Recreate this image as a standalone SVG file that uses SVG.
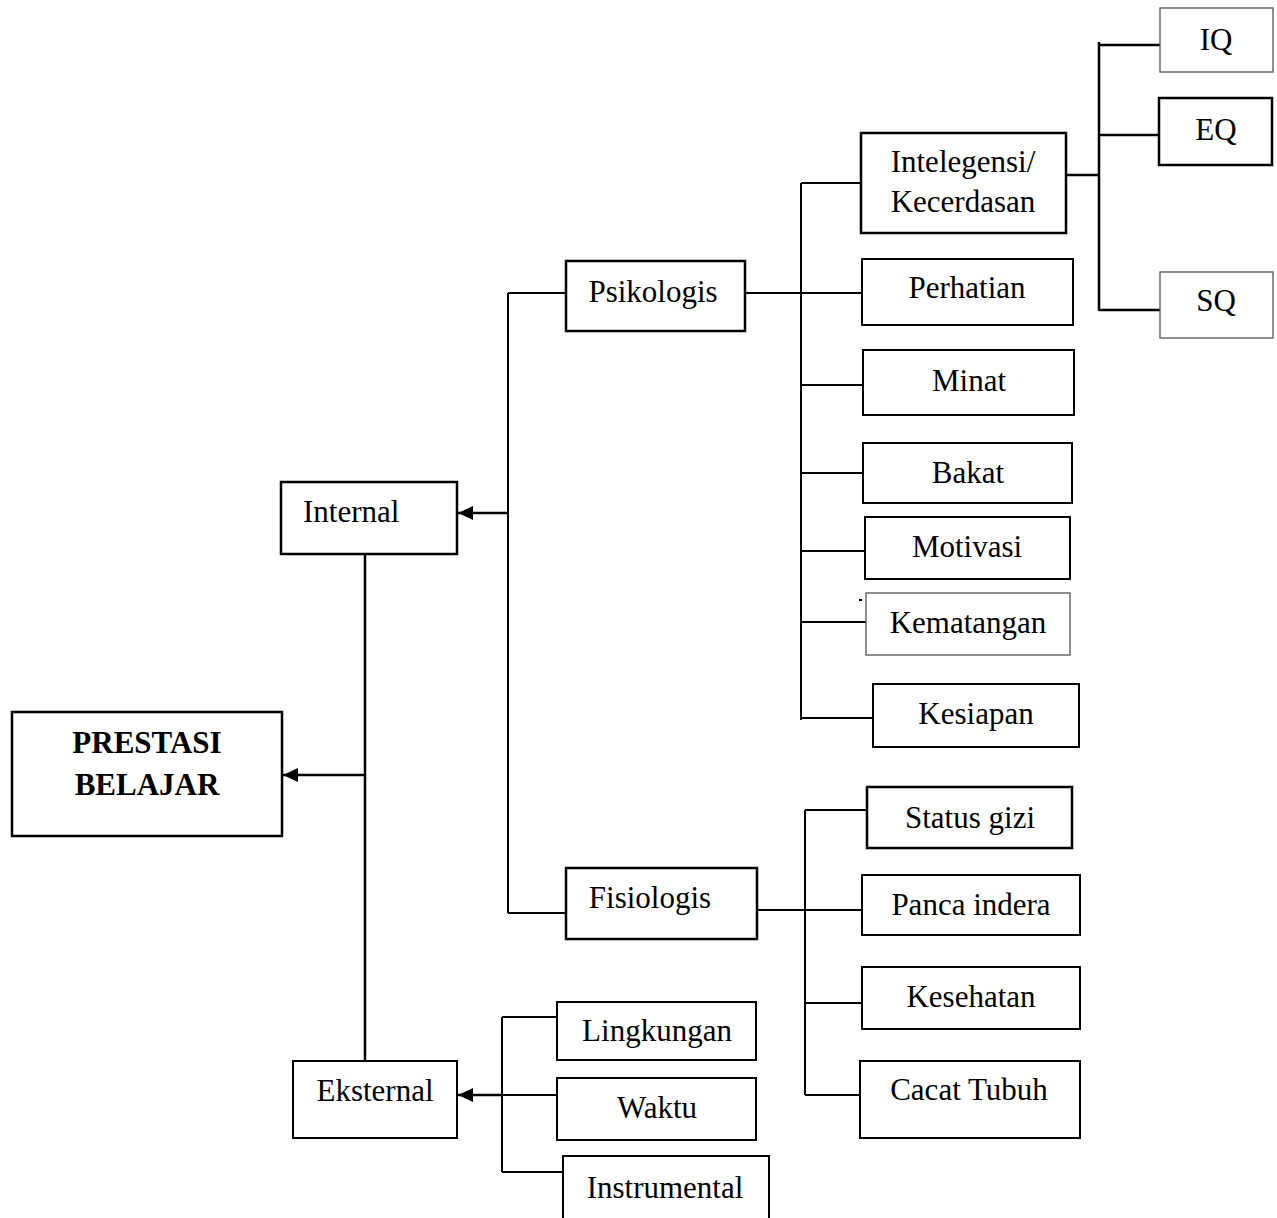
<svg xmlns="http://www.w3.org/2000/svg" width="1277" height="1218" viewBox="0 0 1277 1218">
<style>
.box{fill:#fff;stroke:#000;stroke-width:2.5}
.thin{fill:#fff;stroke:#555;stroke-width:1.3}
.t{font-family:"Liberation Serif","Times New Roman",serif;font-size:31px;fill:#000;text-anchor:middle}
.b{font-weight:bold}
.ln{fill:none;stroke:#000;stroke-width:2}
.lk{fill:none;stroke:#000;stroke-width:2.5}
</style>
<defs>
<marker id="ah" viewBox="0 0 15 14" refX="15" refY="7" markerWidth="15" markerHeight="14" markerUnits="userSpaceOnUse" orient="auto">
<path d="M0,0 L15,7 L0,14 Z" fill="#000"/>
</marker>
</defs>
<g id="connectors">
<path class="lk" d="M1099,42 V311 M1099,45 H1160 M1099,135 H1159 M1099,310 H1160 M1062,175 H1099"/>
<path class="ln" d="M801,183 V720 M801,183 H861 M742,293 H862 M801,385 H863 M801,473 H863 M801,551 H865 M801,622 H866 M801,718 H873 M859,600 H862"/>
<path class="ln" d="M508,293 V913 M508,293 H566 M508,913 H566"/>
<path class="lk" d="M508,513 H458" marker-end="url(#ah)"/>
<path class="lk" d="M365,555 V1061"/>
<path class="lk" d="M365,775 H283" marker-end="url(#ah)"/>
<path class="ln" d="M805,810 V1095 M805,810 H867 M757,910 H866 M805,1003 H862 M805,1095 H860"/>
<path class="ln" d="M502,1017 V1172 M502,1017 H557 M502,1095 H557 M502,1172 H565"/>
<path class="lk" d="M502,1095 H458" marker-end="url(#ah)"/>
</g>
<g id="iq"><rect class="thin" x="1160" y="8" width="113" height="64"/><text class="t" x="1216" y="50">IQ</text></g>
<g id="eq"><rect class="box" x="1159" y="98" width="113" height="67"/><text class="t" x="1216" y="140">EQ</text></g>
<g id="sq"><rect class="thin" x="1160" y="272" width="113" height="66"/><text class="t" x="1216" y="311">SQ</text></g>
<g id="intelegensi"><rect class="box" x="861" y="133" width="205" height="100"/><text class="t" x="963" y="172">Intelegensi/</text><text class="t" x="963" y="212">Kecerdasan</text></g>
<g id="psikologis"><rect class="box" x="566" y="261" width="179" height="70"/><text class="t" x="653" y="302">Psikologis</text></g>
<g id="perhatian"><rect class="box" style="stroke-width:2" x="862" y="259" width="211" height="66"/><text class="t" x="967" y="298">Perhatian</text></g>
<g id="minat"><rect class="box" style="stroke-width:2" x="863" y="350" width="211" height="65"/><text class="t" x="969" y="391">Minat</text></g>
<g id="bakat"><rect class="box" style="stroke-width:2" x="863" y="443" width="209" height="60"/><text class="t" x="968" y="483">Bakat</text></g>
<g id="motivasi"><rect class="box" style="stroke-width:2" x="865" y="517" width="205" height="62"/><text class="t" x="967" y="557">Motivasi</text></g>
<g id="kematangan"><rect class="thin" x="866" y="593" width="204" height="62"/><text class="t" x="968" y="633">Kematangan</text></g>
<g id="kesiapan"><rect class="box" style="stroke-width:2" x="873" y="684" width="206" height="63"/><text class="t" x="976" y="724">Kesiapan</text></g>
<g id="internal"><rect class="box" x="281" y="482" width="176" height="72"/><text class="t" x="303" y="522" style="text-anchor:start">Internal</text></g>
<g id="prestasi"><rect class="box" x="12" y="712" width="270" height="124"/><text class="t b" x="147" y="753">PRESTASI</text><text class="t b" x="147" y="795">BELAJAR</text></g>
<g id="fisiologis"><rect class="box" x="566" y="868" width="191" height="71"/><text class="t" x="650" y="908">Fisiologis</text></g>
<g id="statusgizi"><rect class="box" x="867" y="787" width="205" height="61"/><text class="t" x="970" y="828">Status gizi</text></g>
<g id="pancaindera"><rect class="box" style="stroke-width:2" x="862" y="875" width="218" height="60"/><text class="t" x="971" y="915">Panca indera</text></g>
<g id="kesehatan"><rect class="box" style="stroke-width:2" x="862" y="967" width="218" height="62"/><text class="t" x="971" y="1007">Kesehatan</text></g>
<g id="cacattubuh"><rect class="box" style="stroke-width:2" x="860" y="1061" width="220" height="77"/><text class="t" x="969" y="1100">Cacat Tubuh</text></g>
<g id="eksternal"><rect class="box" style="stroke-width:2" x="293" y="1061" width="164" height="77"/><text class="t" x="375" y="1101">Eksternal</text></g>
<g id="lingkungan"><rect class="box" style="stroke-width:2" x="557" y="1002" width="199" height="58"/><text class="t" x="657" y="1041">Lingkungan</text></g>
<g id="waktu"><rect class="box" style="stroke-width:2" x="557" y="1078" width="199" height="62"/><text class="t" x="657" y="1118">Waktu</text></g>
<g id="instrumental"><rect class="box" style="stroke-width:2" x="563" y="1156" width="206" height="70"/><text class="t" x="665" y="1198">Instrumental</text></g>
</svg>
